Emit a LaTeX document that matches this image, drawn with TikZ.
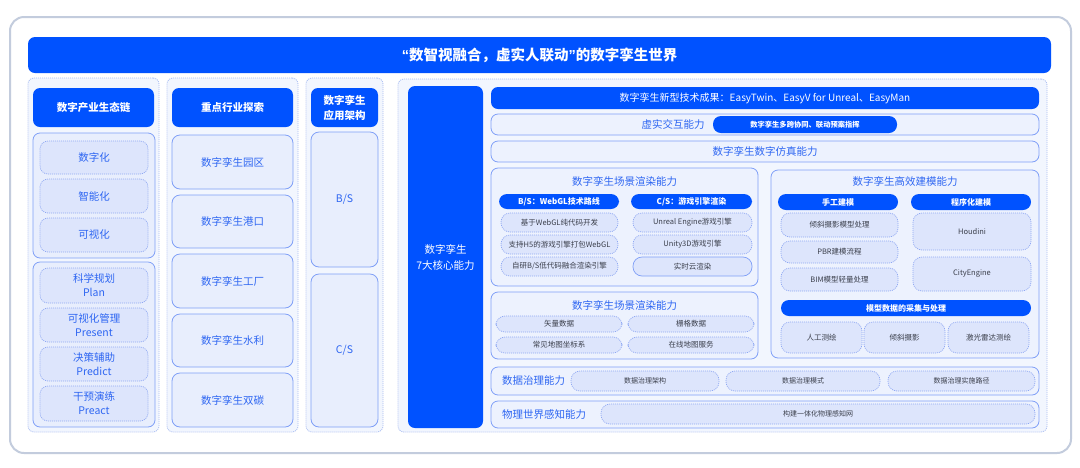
\documentclass[tikz,border=0pt]{standalone}
\usepackage{fontspec}
\setmainfont{Noto Sans CJK SC}
\newfontfamily\latq{Liberation Sans}
\newcommand\fs[2]{\fontsize{#1}{#2}\selectfont}
\definecolor{mainblue}{HTML}{0052FF}
\definecolor{colbg}{HTML}{F2F6FE}
\definecolor{colborder}{HTML}{A9BDF2}
\definecolor{grpbg}{HTML}{E8EEFD}
\definecolor{rowbg}{HTML}{EDF2FE}
\definecolor{grpborder}{HTML}{7F9FF7}
\definecolor{itembg}{HTML}{DDE5FC}
\definecolor{itemborder}{HTML}{8FA8F3}
\definecolor{txtblue}{HTML}{2E66F2}
\definecolor{txtgray}{HTML}{3A3E4A}
\definecolor{framec}{HTML}{C3CCDD}
\newcommand\bx[7]{\node[#1, minimum width={#5-#3}, minimum height={#6-#4}] (#2) at ({(#3+#5)/2},{(#4+#6)/2}) {#7};}
\tikzset{
 base/.style={inner sep=0pt, outer sep=0pt, align=center},
 colbox/.style={base, draw=colborder, fill=colbg, line width=0.8pt, dash pattern=on 1pt off 1pt, rounded corners=6pt},
 bluebox/.style={base, fill=mainblue, rounded corners=7pt, text=white, font=\fs{10.5}{15}\bfseries},
 grp/.style={base, draw=grpborder, fill=grpbg, line width=0.8pt, rounded corners=7pt},
 bitem/.style={base, draw=itemborder, fill=itembg, line width=0.7pt, dash pattern=on 1pt off 1pt, rounded corners=8pt, text=txtblue, font=\fs{10.5}{14}},
 citem/.style={base, draw=grpborder, fill=grpbg, line width=0.8pt, rounded corners=8pt, text=txtblue, font=\fs{10.5}{14}},
 rowbox/.style={base, draw=grpborder, fill=rowbg, line width=0.8pt, rounded corners=7pt, text=txtblue, font=\fs{10.5}{13}},
 pill/.style={base, fill=mainblue, rounded corners=8pt, text=white, font=\fs{8}{10}\bfseries},
 sitem/.style={base, draw=itemborder, fill=itembg, line width=0.7pt, dash pattern=on 1pt off 1pt, rounded corners=9pt, text=txtgray, font=\fs{7.5}{9}},
 ssolid/.style={sitem, dash pattern=}
}
\begin{document}
\begin{tikzpicture}[x=1pt,y=-1pt]
\path[use as bounding box, fill=white] (0,0) rectangle (1080,467);
\draw[framec, line width=2pt, fill=white, rounded corners=14pt] (10,17) rectangle (1071,453);
% title
\bx{bluebox, font=\fs{14.5}{18}\bfseries}{title}{28}{37}{1051}{73}{{\latq “}数智视融合，虚实人联动{\latq ”}的数字孪生世界}
% column 1
\bx{colbox}{col1}{28}{78}{159}{432}{}
\bx{bluebox}{h1}{33}{88}{154}{127}{数字产业生态链}
\bx{grp}{g1}{33}{133}{155}{258}{}
\bx{bitem}{i11}{40}{141}{148}{174}{数字化}
\bx{bitem}{i12}{40}{179}{148}{213}{智能化}
\bx{bitem}{i13}{40}{218}{148}{252}{可视化}
\bx{grp}{g2}{33}{262}{155}{427}{}
\bx{bitem}{i14}{40}{268}{148}{303}{科学规划\\Plan}
\bx{bitem}{i15}{40}{308}{148}{342}{可视化管理\\Present}
\bx{bitem}{i16}{40}{347}{148}{381}{决策辅助\\Predict}
\bx{bitem}{i17}{40}{386}{148}{421}{干预演练\\Preact}
% column 2
\bx{colbox}{col2}{167}{78}{298}{432}{}
\bx{bluebox}{h2}{172}{88}{293}{127}{重点行业探索}
\bx{citem}{i21}{172}{135}{293}{189}{数字孪生园区}
\bx{citem}{i22}{172}{195}{293}{248}{数字孪生港口}
\bx{citem}{i23}{172}{254}{293}{308}{数字孪生工厂}
\bx{citem}{i24}{172}{314}{293}{367}{数字孪生水利}
\bx{citem}{i25}{172}{373}{293}{427}{数字孪生双碳}
% column 3
\bx{colbox}{col3}{306}{78}{383}{432}{}
\bx{bluebox}{h3}{311}{88}{378}{127}{数字孪生\\应用架构}
\bx{citem}{bs}{311}{132}{378}{267}{B/S}
\bx{citem}{cs}{311}{274}{378}{427}{C/S}
% column 4
\bx{colbox}{col4}{398}{79}{1047}{432}{}
\bx{bluebox, font=\fs{10.5}{16}}{core}{408}{86}{483}{428}{数字孪生\\7大核心能力}
\bx{bluebox, font=\fs{10}{12}}{tech}{491}{87}{1039}{109}{数字孪生新型技术成果：EasyTwin、EasyV for Unreal、EasyMan}
\bx{rowbox}{xs}{491}{114}{1039}{135}{}
\node[base, text=txtblue, font=\fs{10.5}{13}] (xslab) at (673,124.5) {虚实交互能力};
\bx{pill, font=\fs{7.3}{9}\bfseries}{xsp}{713}{116}{897}{133}{数字孪生多跨协同、联动预案指挥}
\bx{rowbox}{fz}{491}{141}{1039}{162}{数字孪生数字仿真能力}
% render 1
\bx{rowbox}{r1}{491}{168}{758}{286}{}
\node[base, text=txtblue, font=\fs{10.5}{13}] (r1t) at (624.5,181) {数字孪生场景渲染能力};
\bx{pill}{r1a}{499}{194}{619}{209}{B/S：WebGL技术路线}
\bx{pill}{r1b}{631}{194}{752}{209}{C/S：游戏引擎渲染}
\bx{sitem}{r1a1}{501}{213}{618}{232}{基于WebGL纯代码开发}
\bx{sitem}{r1a2}{501}{235}{618}{254}{支持H5的游戏引擎打包WebGL}
\bx{sitem}{r1a3}{501}{257}{618}{276}{自研B/S低代码融合渲染引擎}
\bx{sitem}{r1b1}{633}{213}{752}{232}{Unreal Engine游戏引擎}
\bx{sitem}{r1b2}{633}{235}{752}{254}{Unity3D游戏引擎}
\bx{ssolid, draw=grpborder}{r1b3}{633}{257}{752}{276}{实时云渲染}
% render 2
\bx{rowbox}{r2}{491}{292}{758}{359}{}
\node[base, text=txtblue, font=\fs{10.5}{13}] (r2t) at (624.5,305) {数字孪生场景渲染能力};
\bx{sitem}{r2a}{496}{316}{622}{332}{矢量数据}
\bx{sitem}{r2b}{628}{316}{754}{332}{栅格数据}
\bx{sitem}{r2c}{496}{337}{622}{353}{常见地图坐标系}
\bx{sitem}{r2d}{628}{337}{754}{353}{在线地图服务}
% modeling
\bx{rowbox}{m}{771}{170}{1039}{358}{}
\node[base, text=txtblue, font=\fs{10.5}{13}] (mt) at (905,181) {数字孪生高效建模能力};
\bx{pill}{ma}{778}{194}{898}{210}{手工建模}
\bx{pill}{mb}{911}{194}{1031}{210}{程序化建模}
\bx{sitem}{ma1}{781}{213}{898}{237}{倾斜摄影模型处理}
\bx{sitem}{ma2}{781}{241}{898}{263}{PBR建模流程}
\bx{sitem}{ma3}{781}{268}{898}{291}{BIM模型轻量处理}
\bx{sitem}{mb1}{913}{213}{1031}{250}{Houdini}
\bx{sitem}{mb2}{913}{257}{1031}{291}{CityEngine}
\bx{pill}{mc}{781}{300}{1031}{316}{模型数据的采集与处理}
\bx{sitem}{mc1}{781}{322}{862}{353}{人工测绘}
\bx{sitem}{mc2}{864}{322}{945}{353}{倾斜摄影}
\bx{sitem}{mc3}{948}{322}{1029}{353}{激光雷达测绘}
% data governance
\bx{rowbox}{dg}{491}{367}{1039}{395}{}
\node[base, anchor=west, text=txtblue, font=\fs{10.5}{13}] (dgl) at (502,381) {数据治理能力};
\bx{sitem, font=\fs{7}{9}}{dg1}{571}{371}{719}{391}{数据治理架构}
\bx{sitem, font=\fs{7}{9}}{dg2}{726}{371}{880}{391}{数据治理模式}
\bx{sitem, font=\fs{7}{9}}{dg3}{888}{371}{1035}{391}{数据治理实施路径}
% perception
\bx{rowbox}{pw}{491}{401}{1039}{428}{}
\node[base, anchor=west, text=txtblue, font=\fs{10.5}{13}] (pwl) at (502,414.5) {物理世界感知能力};
\bx{sitem, font=\fs{7}{9}}{pw1}{601}{404}{1035}{424}{构建一体化物理感知网}
\end{tikzpicture}
\end{document}
